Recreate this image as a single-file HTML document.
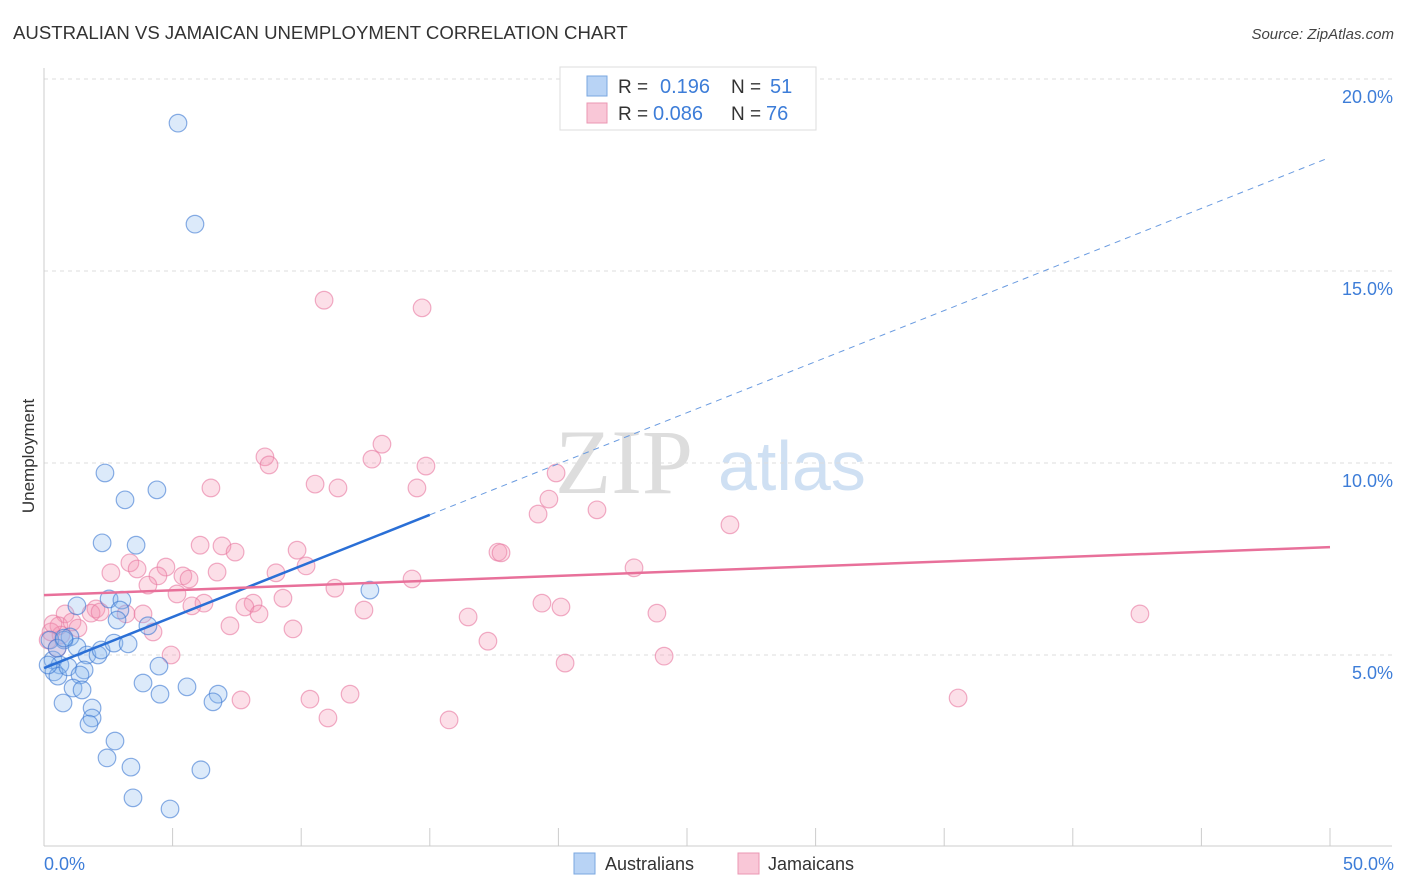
<!DOCTYPE html>
<html><head><meta charset="utf-8"><style>
body{margin:0;background:#fff;font-family:"Liberation Sans",sans-serif;}
svg{display:block}
</style></head><body>
<svg width="1406" height="892">
<text x="13" y="39" font-size="18.6" fill="#333">AUSTRALIAN VS JAMAICAN UNEMPLOYMENT CORRELATION CHART</text>
<text x="1394" y="39" font-size="15" fill="#444" font-style="italic" text-anchor="end">Source: ZipAtlas.com</text>
<text x="555" y="493" font-size="92" fill="#ddd" font-family="Liberation Serif,serif">ZIP</text>
<text x="718" y="490" font-size="70" fill="#cfe0f3">atlas</text>
<g id="grid"></g>
<g id="axes"></g>
<g id="marks"></g>
<g id="trends"></g>
<text transform="translate(34,456) rotate(-90)" font-size="17" fill="#333" text-anchor="middle">Unemployment</text>
<text x="44" y="870" font-size="18" fill="#3d7dd8">0.0%</text>
<text x="1394" y="870" font-size="18" fill="#3d7dd8" text-anchor="end">50.0%</text>
<g>
<rect x="560" y="67" width="256" height="63" fill="#fff" stroke="#ddd"/>
<rect x="587" y="76" width="20" height="20" fill="#b8d3f5" stroke="#7aa7e0"/>
<rect x="587" y="103" width="20" height="20" fill="#f9c7d7" stroke="#eb97b3"/>
<text x="618" y="93" font-size="19" fill="#333">R =</text><text x="660" y="93" font-size="20" fill="#3d7dd8">0.196</text>
<text x="731" y="93" font-size="19" fill="#333">N =</text><text x="770" y="93" font-size="20" fill="#3d7dd8">51</text>
<text x="618" y="120" font-size="19" fill="#333">R =</text><text x="653" y="120" font-size="20" fill="#3d7dd8">0.086</text>
<text x="731" y="120" font-size="19" fill="#333">N =</text><text x="766" y="120" font-size="20" fill="#3d7dd8">76</text>
</g>
<g>
<rect x="574" y="853" width="21" height="21" fill="#b8d3f5" stroke="#7aa7e0"/>
<text x="605" y="870" font-size="18" fill="#333">Australians</text>
<rect x="738" y="853" width="21" height="21" fill="#f9c7d7" stroke="#eb97b3"/>
<text x="768" y="870" font-size="18" fill="#333">Jamaicans</text>
</g>
</svg>
<script>
const yTicks=[5,10,15,20];
const yTickLabels=["5.0%","10.0%","15.0%","20.0%"];
const xTicks=[0,5,10,15,20,25,30,35,40,45,50];
const ausX=[5.21,5.87,2.37,3.15,4.39,2.26,3.58,12.67,1.28,2.53,3.03,2.95,2.84,4.04,1.01,0.78,1.28,0.23,0.35,0.62,0.39,0.54,0.93,1.67,2.10,2.22,2.72,3.27,1.56,1.40,4.47,1.13,1.48,3.85,4.51,5.56,6.77,6.57,0.74,1.87,1.87,1.75,2.76,2.45,3.38,6.10,3.46,4.90,0.16,0.51,0.78];
const ausY=[18.85,16.22,9.74,9.04,9.30,7.92,7.86,6.69,6.28,6.46,6.43,6.17,5.91,5.76,5.47,5.39,5.21,5.39,4.87,4.74,4.56,4.45,4.69,5.00,5.00,5.13,5.31,5.29,4.61,4.48,4.71,4.14,4.09,4.27,3.98,4.17,3.98,3.78,3.75,3.62,3.36,3.20,2.76,2.32,2.08,2.01,1.28,0.99,4.74,5.18,5.44];
const jamX=[10.89,14.70,13.14,8.59,8.75,12.75,14.85,10.54,11.43,14.50,6.49,19.91,19.63,19.21,21.50,26.67,17.65,17.77,6.07,6.92,7.43,9.84,10.19,22.94,2.60,3.34,3.62,4.74,4.43,5.40,5.64,6.73,9.02,14.31,11.31,4.04,5.17,6.22,5.75,8.13,7.81,8.36,9.29,12.44,19.36,20.10,23.83,42.61,16.49,2.02,0.82,1.83,2.18,3.19,3.85,0.58,1.09,1.32,0.66,0.16,0.27,4.24,7.23,9.68,17.26,4.94,20.26,24.11,7.66,10.34,11.90,11.04,15.75,35.54,0.51,0.35];
const jamY=[14.24,14.04,10.49,10.16,9.95,10.10,9.92,9.45,9.35,9.35,9.35,9.74,9.06,8.67,8.78,8.39,7.68,7.66,7.86,7.84,7.68,7.73,7.32,7.27,7.14,7.40,7.24,7.29,7.06,7.06,6.98,7.16,7.14,6.98,6.74,6.82,6.59,6.35,6.28,6.35,6.25,6.07,6.48,6.17,6.35,6.25,6.09,6.07,5.99,6.20,6.07,6.09,6.12,6.07,6.07,5.76,5.86,5.70,5.52,5.39,5.60,5.60,5.76,5.68,5.36,5.00,4.79,4.97,3.83,3.85,3.98,3.36,3.31,3.88,5.18,5.81];
const ausTrend=[4.66,8.65,17.92];
const ausTrendX=[0,15,49.85];
const jamTrend=[6.56,7.81];
const jamTrendX=[0,50];
const NS="http://www.w3.org/2000/svg";
const X=v=>44+v*25.72, Y=v=>847-v*38.4;
function mk(t,a,p){const e=document.createElementNS(NS,t);for(const k in a)e.setAttribute(k,a[k]);p.appendChild(e);return e;}
const grid=document.getElementById('grid'),axes=document.getElementById('axes'),marks=document.getElementById('marks'),trends=document.getElementById('trends');
yTicks.forEach((t,i)=>{
 const l=mk('line',{x1:44,x2:1392,y1:Y(t),y2:Y(t),stroke:'#ddd','stroke-dasharray':'4,4'},grid);
 
 
 const tx=mk('text',{x:1393,y:Y(t)+24,'font-size':18,fill:'#3d7dd8','text-anchor':'end'},grid);
 tx.textContent=yTickLabels[i];
 
 
});
const ya=mk('line',{x1:44,x2:44,y1:68,y2:846,stroke:'#ccc'},axes);


const xa=mk('line',{x1:44,x2:1392,y1:846,y2:846,stroke:'#ccc'},axes);


xTicks.forEach(t=>{if(t===0)return;
 const l=mk('line',{x1:X(t),x2:X(t),y1:828,y2:846,stroke:'#ccc'},axes);
 
 
});
jamX.forEach((v,i)=>{
 const c=mk('circle',{cx:X(v),cy:Y(jamY[i]),r:8.8,fill:'rgba(244,150,180,0.3)',stroke:'rgba(232,120,160,0.6)','stroke-width':1.2},marks);
 
 
});
ausX.forEach((v,i)=>{
 const c=mk('circle',{cx:X(v),cy:Y(ausY[i]),r:8.8,fill:'rgba(140,185,240,0.3)',stroke:'rgba(60,120,210,0.6)','stroke-width':1.2},marks);
 
 
});
const bs=mk('line',{x1:X(ausTrendX[0]),y1:Y(ausTrend[0]),x2:X(ausTrendX[1]),y2:Y(ausTrend[1]),stroke:'#2a6fd6','stroke-width':2.5},trends);


const bd=mk('line',{x1:X(ausTrendX[1]),y1:Y(ausTrend[1]),x2:X(ausTrendX[2]),y2:Y(ausTrend[2]),stroke:'#6a9be0','stroke-width':1,'stroke-dasharray':'6,5'},trends);


const pl=mk('line',{x1:X(jamTrendX[0]),y1:Y(jamTrend[0]),x2:X(jamTrendX[1]),y2:Y(jamTrend[1]),stroke:'#e8709a','stroke-width':2.5},trends);


</script>
</body></html>
